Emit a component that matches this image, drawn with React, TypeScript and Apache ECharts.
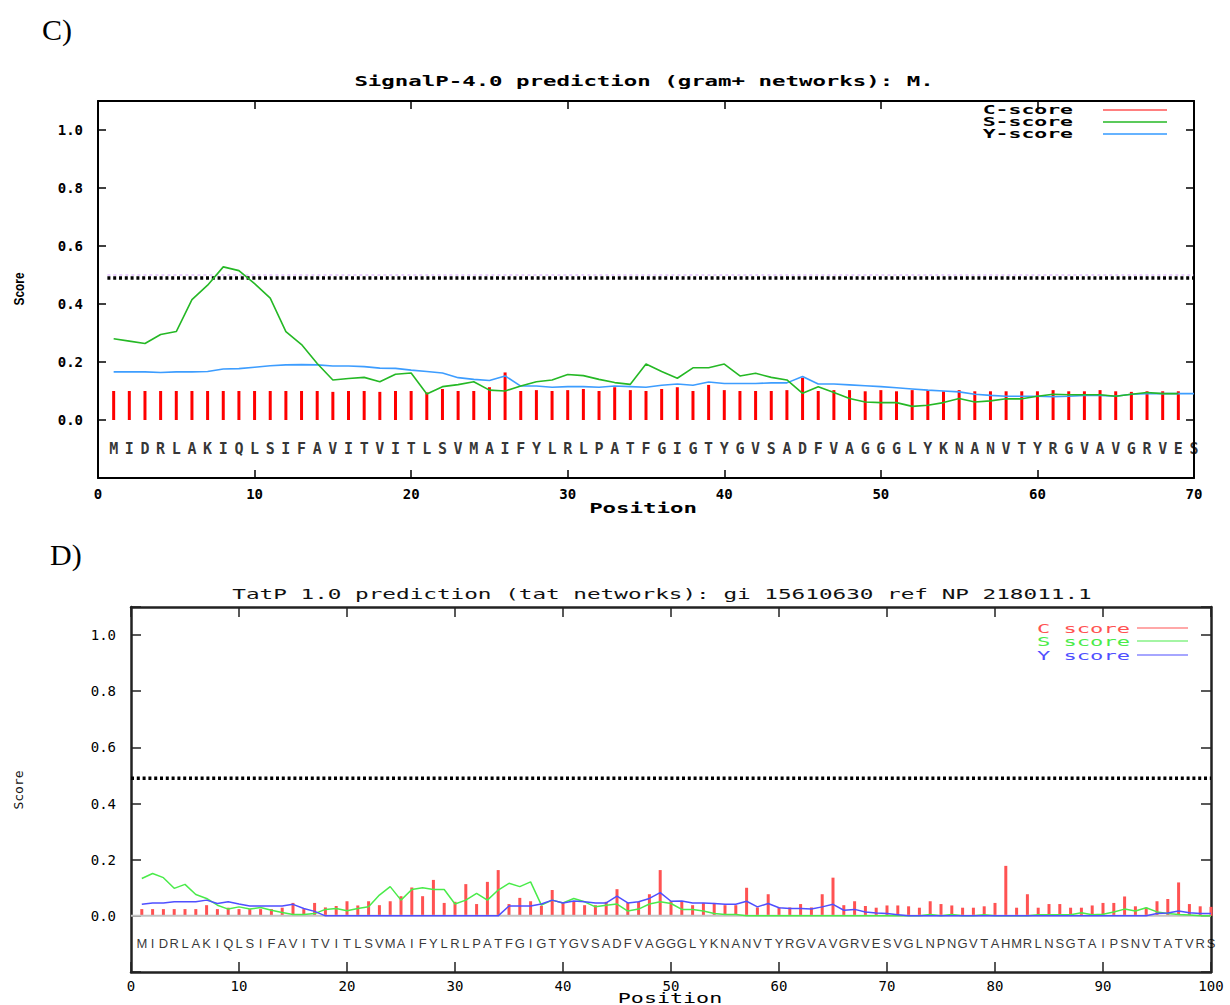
import React, { useEffect, useRef } from "react";
import * as echarts from "echarts";

// ---------- data ----------
const TOP_TITLE = "SignalP-4.0 prediction (gram+ networks): M.";
const BOTTOM_TITLE = "TatP 1.0 prediction (tat networks): gi 15610630 ref NP 218011.1";
const TOP_SEQUENCE = "MIDRLAKIQLSIFAVITVITLSVMAIFYLRLPATFGIGTYGVSADFVAGGGLYKNANVTYRGVAVGRVES";
const BOTTOM_SEQUENCE = "MIDRLAKIQLSIFAVITVITLSVMAIFYLRLPATFGIGTYGVSADFVAGGGLYKNANVTYRGVAVGRVESVGLNPNGVTAHMRLNSGTAIPSNVTATVRS";
const TOP_LEGEND = ["C-score", "S-score", "Y-score"];
const BOTTOM_LEGEND = ["C score", "S score", "Y score"];
const TOP_CUTOFF = 0.49;
const BOTTOM_CUTOFF = 0.49;

// SignalP-4.0 (positions 1..)
const TOP_C = [
  0.1, 0.1, 0.1, 0.1, 0.1, 0.1, 0.1, 0.1, 0.1, 0.1,
  0.1, 0.1, 0.1, 0.1, 0.097, 0.1, 0.1, 0.097, 0.1, 0.1,
  0.095, 0.107, 0.1, 0.1, 0.113, 0.164, 0.1, 0.103, 0.1, 0.103,
  0.107, 0.1, 0.113, 0.103, 0.1, 0.107, 0.113, 0.1, 0.121, 0.103,
  0.1, 0.1, 0.1, 0.103, 0.146, 0.1, 0.103, 0.103, 0.099, 0.103,
  0.099, 0.103, 0.103, 0.099, 0.103, 0.099, 0.099, 0.099, 0.099, 0.099,
  0.103, 0.099, 0.099, 0.103, 0.099, 0.097, 0.099, 0.099, 0.099,
];
const TOP_S = [
  0.28, 0.272, 0.264, 0.295, 0.305, 0.415, 0.465, 0.528, 0.515, 0.47,
  0.42, 0.305, 0.26, 0.195, 0.138, 0.143, 0.147, 0.132, 0.158, 0.162,
  0.09, 0.115, 0.122, 0.132, 0.103, 0.1, 0.117, 0.132, 0.138, 0.157,
  0.153, 0.14, 0.129, 0.123, 0.193, 0.167, 0.144, 0.18, 0.18, 0.193,
  0.152, 0.161, 0.147, 0.138, 0.092, 0.115, 0.095, 0.074, 0.062, 0.06,
  0.06, 0.047, 0.051, 0.06, 0.074, 0.062, 0.066, 0.073, 0.073, 0.082,
  0.089, 0.087, 0.087, 0.087, 0.082, 0.089, 0.095, 0.091, 0.091,
];
const TOP_Y = [
  0.166, 0.166, 0.166, 0.164, 0.166, 0.166, 0.167, 0.176, 0.177, 0.182,
  0.187, 0.19, 0.191, 0.19, 0.186, 0.186, 0.184, 0.179, 0.178, 0.172,
  0.167, 0.162, 0.146, 0.14, 0.136, 0.152, 0.117, 0.117, 0.113, 0.115,
  0.115, 0.113, 0.117, 0.115, 0.113, 0.12, 0.124, 0.12, 0.131, 0.126,
  0.126, 0.126, 0.128, 0.128, 0.15, 0.124, 0.124, 0.121, 0.118, 0.115,
  0.111, 0.107, 0.103, 0.1, 0.097, 0.089, 0.085, 0.082, 0.082, 0.082,
  0.08, 0.082, 0.085, 0.085, 0.082, 0.089, 0.091, 0.091, 0.091, 0.091,
];

// TatP 1.0 (positions 1..)
const BOT_C = [
  0.024, 0.024, 0.024, 0.024, 0.024, 0.024, 0.038, 0.024, 0.029, 0.024,
  0.024, 0.024, 0.024, 0.029, 0.046, 0.024, 0.046, 0.03, 0.035, 0.052,
  0.037, 0.052, 0.038, 0.052, 0.07, 0.101, 0.07, 0.128, 0.046, 0.05,
  0.113, 0.042, 0.121, 0.163, 0.042, 0.064, 0.052, 0.036, 0.092, 0.046,
  0.052, 0.038, 0.038, 0.05, 0.095, 0.046, 0.05, 0.077, 0.163, 0.052,
  0.052, 0.038, 0.046, 0.046, 0.038, 0.038, 0.1, 0.03, 0.077, 0.03,
  0.03, 0.042, 0.03, 0.077, 0.136, 0.038, 0.052, 0.035, 0.029, 0.037,
  0.037, 0.034, 0.029, 0.052, 0.042, 0.037, 0.029, 0.029, 0.034, 0.046,
  0.178, 0.029, 0.077, 0.029, 0.042, 0.042, 0.029, 0.029, 0.037, 0.046,
  0.046, 0.069, 0.034, 0.029, 0.052, 0.06, 0.119, 0.042, 0.034, 0.032,
];
const BOT_S = [
  0.133, 0.151, 0.136, 0.098, 0.112, 0.076, 0.062, 0.038, 0.024, 0.032,
  0.024, 0.03, 0.02, 0.012, 0.005, 0.005, 0.008, 0.023, 0.026, 0.018,
  0.026, 0.032, 0.074, 0.104, 0.056, 0.094, 0.1, 0.094, 0.094, 0.042,
  0.056, 0.08, 0.056, 0.092, 0.116, 0.104, 0.121, 0.038, 0.056, 0.046,
  0.062, 0.05, 0.032, 0.038, 0.042, 0.017, 0.024, 0.042, 0.05, 0.044,
  0.023, 0.023, 0.017, 0.008, 0.005, 0.005, 0, 0, 0, 0,
  0, 0, 0, 0, 0, 0, 0, 0, 0, 0,
  0, 0, 0, 0.005, 0, 0.005, 0, 0, 0.004, 0,
  0, 0, 0, 0.004, 0.004, 0.004, 0.004, 0.011, 0.004, 0.006,
  0.014, 0.024, 0.017, 0.029, 0.014, 0.008, 0.005, 0.003, 0, 0,
];
const BOT_Y = [
  0.041, 0.046, 0.046, 0.05, 0.05, 0.05, 0.056, 0.044, 0.05, 0.042,
  0.035, 0.035, 0.035, 0.035, 0.041, 0.026, 0.016, 0, 0, 0,
  0, 0, 0, 0, 0, 0, 0, 0, 0, 0,
  0, 0, 0, 0, 0.035, 0.035, 0.035, 0.042, 0.056, 0.046,
  0.053, 0.05, 0.046, 0.046, 0.07, 0.046, 0.05, 0.062, 0.083, 0.052,
  0.053, 0.046, 0.046, 0.044, 0.041, 0.041, 0.052, 0.032, 0.044, 0.029,
  0.026, 0.026, 0.024, 0.032, 0.041, 0.02, 0.023, 0.014, 0.01, 0.008,
  0.004, 0, 0, 0, 0, 0, 0, 0, 0, 0,
  0, 0, 0, 0, 0, 0, 0, 0, 0, 0,
  0, 0, 0, 0, 0.008, 0.01, 0.017, 0.011, 0.008, 0.008,
];

// ---------- styling ----------
const MONO = '"DejaVu Sans Mono", monospace';
const TOP_COLORS = { c: "#ff0000", s: "#25b825", y: "#3d9dff" };
const BOT_COLORS = { c: "#ff5252", s: "#4aeb4a", y: "#4f4fff" };

const toXY = (arr: number[]) => arr.map((v, i) => [i + 1, v]);
const fmtY = (v: number) =>
  v < -0.05 || v > 1.05 ? "" : Math.abs(v) < 1e-9 ? "0.0" : v.toFixed(1);

function makeAxes(grid: number, xmax: number, bold: boolean, frame: string, frameW: number, tickLen: number, labelMargin: number) {
  const lbl = {
    fontFamily: MONO,
    fontSize: 14,
    fontWeight: bold ? "bold" : "normal",
    color: "#000",
  };
  const line = { show: true, onZero: false, lineStyle: { color: frame, width: frameW } };
  const tick = { show: true, inside: true, length: tickLen, lineStyle: { color: frame, width: 1.5 } };
  const xa = [
    {
      gridIndex: grid, type: "value", min: 0, max: xmax, interval: 10, position: "bottom",
      axisLine: line, axisTick: tick, splitLine: { show: false },
      axisLabel: { ...lbl, margin: labelMargin },
    },
    {
      gridIndex: grid, type: "value", min: 0, max: xmax, interval: 10, position: "top",
      axisLine: line, axisTick: tick, splitLine: { show: false }, axisLabel: { show: false },
    },
  ];
  const ya = [
    {
      gridIndex: grid, type: "value", min: -0.2, max: 1.1, interval: 0.2, position: "left",
      axisLine: line, axisTick: tick, splitLine: { show: false },
      axisLabel: { ...lbl, margin: 15, formatter: fmtY },
    },
    {
      gridIndex: grid, type: "value", min: -0.2, max: 1.1, interval: 0.2, position: "right",
      axisLine: line, axisTick: tick, splitLine: { show: false }, axisLabel: { show: false },
    },
  ];
  return { xa, ya };
}

function seqSeries(seq: string, xi: number, yi: number, font: any) {
  return {
    type: "scatter",
    xAxisIndex: xi,
    yAxisIndex: yi,
    silent: true,
    symbol: "circle",
    symbolSize: 1,
    itemStyle: { color: "rgba(0,0,0,0)" },
    data: seq.split("").map((_, i) => [i + 1, -0.1]),
    label: {
      show: true,
      position: "inside",
      color: "#000",
      ...font,
      formatter: (p: any) => seq[p.dataIndex],
    },
    z: 5,
  };
}

function buildOption() {
  const top = makeAxes(0, 70, true, "#000", 2, 8, 9);
  const bot = makeAxes(1, 100, false, "#222", 2.5, 10, 7);

  const txt = (x: number, y: number, text: string, o: any = {}, extra: any = {}) => ({
    type: "text",
    x,
    y,
    ...extra,
    style: {
      text,
      fill: "#000",
      fontFamily: MONO,
      fontSize: 14,
      align: "center",
      verticalAlign: "middle",
      ...o,
    },
    silent: true,
  });
  const seg = (x1: number, x2: number, y: number, color: string, w: number) => ({
    type: "line",
    shape: { x1, y1: y, x2, y2: y },
    style: { stroke: color, lineWidth: w },
    silent: true,
  });

  const graphic: any[] = [
    txt(42, 29, "C)", { fontFamily: '"Liberation Serif", serif', fontSize: 30, fontWeight: "normal", align: "left" }),
    txt(50, 554, "D)", { fontFamily: '"Liberation Serif", serif', fontSize: 30, fontWeight: "normal", align: "left" }),
    txt(644, 81, TOP_TITLE, { fontWeight: "bold" }, { scaleX: 1.6 }),
    txt(662, 594, BOTTOM_TITLE, { fontWeight: "normal", fill: "#111" }, { scaleX: 1.62 }),
    txt(19, 289, "Score", { fontFamily: '"Liberation Sans", sans-serif', fontSize: 14, fontWeight: "bold" }, { rotation: Math.PI / 2, scaleX: 0.85 }),
    txt(18, 790, "Score", { fontFamily: MONO, fontSize: 13, fill: "#111" }, { rotation: Math.PI / 2 }),
    txt(643, 508, "Position", { fontWeight: "bold" }, { scaleX: 1.6 }),
    txt(670, 998, "Position", { fontWeight: "normal" }, { scaleX: 1.55 }),
    // top legend
    txt(1073, 110, TOP_LEGEND[0], { fontWeight: "bold", fontSize: 13, align: "right" }, { scaleX: 1.65 }),
    txt(1073, 122, TOP_LEGEND[1], { fontWeight: "bold", fontSize: 13, align: "right" }, { scaleX: 1.65 }),
    txt(1073, 134, TOP_LEGEND[2], { fontWeight: "bold", fontSize: 13, align: "right" }, { scaleX: 1.65 }),
    seg(1103, 1167, 110, TOP_COLORS.c, 1),
    seg(1103, 1167, 122, TOP_COLORS.s, 1.5),
    seg(1103, 1167, 134, "#66b3ff", 2),
    // bottom legend
    txt(1130, 628, BOTTOM_LEGEND[0], { fontSize: 13, align: "right", fill: BOT_COLORS.c }, { scaleX: 1.7 }),
    txt(1130, 641, BOTTOM_LEGEND[1], { fontSize: 13, align: "right", fill: BOT_COLORS.s }, { scaleX: 1.7 }),
    txt(1130, 655, BOTTOM_LEGEND[2], { fontSize: 13, align: "right", fill: BOT_COLORS.y }, { scaleX: 1.7 }),
    seg(1137, 1188, 628, BOT_COLORS.c, 1.2),
    seg(1137, 1188, 641, BOT_COLORS.s, 1.2),
    seg(1137, 1188, 655, BOT_COLORS.y, 1.2),
  ];

  const series: any[] = [
    // ---- top panel ----
    {
      type: "line", xAxisIndex: 0, yAxisIndex: 0, symbol: "none", silent: true,
      data: [[0.6, TOP_CUTOFF + 0.01], [70, TOP_CUTOFF + 0.01]],
      lineStyle: { color: "#c77dff", width: 1, type: [3, 3], opacity: 0.7 },
    },
    {
      type: "line", xAxisIndex: 0, yAxisIndex: 0, symbol: "none", silent: true,
      data: [[0.6, TOP_CUTOFF], [70, TOP_CUTOFF]],
      lineStyle: { color: "#000", width: 3.5, type: [3, 2.8] },
    },
    {
      type: "bar", xAxisIndex: 0, yAxisIndex: 0, barWidth: 3, silent: true,
      data: toXY(TOP_C), itemStyle: { color: TOP_COLORS.c },
    },
    {
      type: "line", xAxisIndex: 0, yAxisIndex: 0, symbol: "none", silent: true,
      data: toXY(TOP_Y), lineStyle: { color: TOP_COLORS.y, width: 1.6 },
    },
    {
      type: "line", xAxisIndex: 0, yAxisIndex: 0, symbol: "none", silent: true,
      data: toXY(TOP_S), lineStyle: { color: TOP_COLORS.s, width: 1.6 },
    },
    seqSeries(TOP_SEQUENCE, 0, 0, { fontFamily: MONO, fontSize: 15, fontWeight: "bold" }),
    // ---- bottom panel ----
    {
      type: "line", xAxisIndex: 2, yAxisIndex: 2, symbol: "none", silent: true,
      data: [[0, 0], [100, 0]], lineStyle: { color: "#c4c4c4", width: 2 },
    },
    {
      type: "line", xAxisIndex: 2, yAxisIndex: 2, symbol: "none", silent: true,
      data: [[0, BOTTOM_CUTOFF], [100, BOTTOM_CUTOFF]],
      lineStyle: { color: "#000", width: 3.5, type: [3, 2.8] },
    },
    {
      type: "bar", xAxisIndex: 2, yAxisIndex: 2, barWidth: 3, silent: true,
      data: toXY(BOT_C), itemStyle: { color: BOT_COLORS.c },
    },
    {
      type: "line", xAxisIndex: 2, yAxisIndex: 2, symbol: "none", silent: true,
      data: toXY(BOT_S), lineStyle: { color: BOT_COLORS.s, width: 1.5 },
    },
    {
      type: "line", xAxisIndex: 2, yAxisIndex: 2, symbol: "none", silent: true,
      data: toXY(BOT_Y), lineStyle: { color: BOT_COLORS.y, width: 1.5 },
    },
    seqSeries(BOTTOM_SEQUENCE, 2, 2, { fontFamily: '"Liberation Sans", sans-serif', fontSize: 13, fontWeight: "normal" }),
  ];

  return {
    animation: false,
    backgroundColor: "#fff",
    grid: [
      { left: 98, top: 101, width: 1096, height: 377 },
      { left: 131, top: 607, width: 1080, height: 365 },
    ],
    xAxis: [...top.xa, ...bot.xa],
    yAxis: [...top.ya, ...bot.ya],
    series,
    graphic,
  };
}

export default function App() {
  const ref = useRef<HTMLDivElement>(null);
  useEffect(() => {
    if (!ref.current) return;
    const chart = echarts.init(ref.current, undefined, { renderer: "svg" });
    chart.setOption(buildOption() as any);
    return () => chart.dispose();
  }, []);
  return (
    <div
      ref={ref}
      style={{ position: "absolute", left: 0, top: 0, width: 1230, height: 1005, background: "#fff" }}
    />
  );
}
